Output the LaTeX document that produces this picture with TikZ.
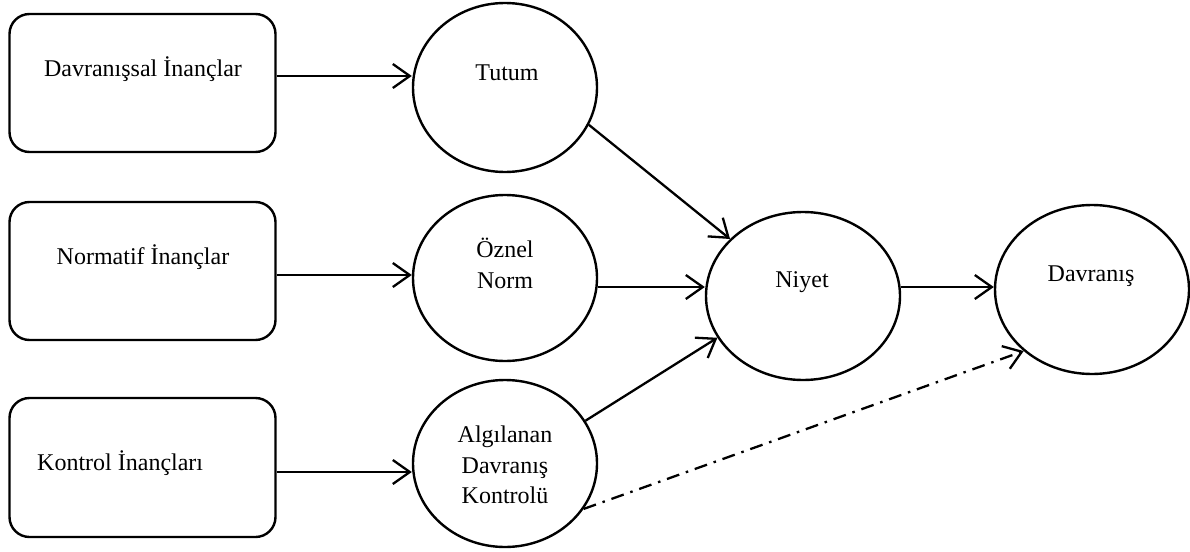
\documentclass[tikz,border=0pt]{standalone}
\usepackage{fontspec}
\setmainfont{Liberation Serif}
\usetikzlibrary{arrows.meta,shapes.geometric}
\begin{document}
\begin{tikzpicture}[x=1pt,y=-1pt,
  bx/.style={draw,line width=2.4pt,rounded corners=20pt,minimum width=266pt,minimum height=138pt,inner sep=0pt},
  el/.style={draw,ellipse,line width=2.4pt,inner sep=0pt},
  lbl/.style={inner sep=0pt,align=center,font=\fontsize{24}{30.5}\selectfont},
  arr/.style={line width=2.3pt,-{Straight Barb[length=17pt,width=24pt,line width=2.3pt]}},
  dashdot/.style={arr,dash pattern=on 13pt off 7pt on 2.5pt off 7pt}]
\useasboundingbox (0,0) rectangle (1190,551);

% belief boxes
\node[bx] (b1) at (142.5,83) {};
\node[bx] (b2) at (142.5,271) {};
\node[bx,minimum height=139pt] (b3) at (142.5,467.5) {};

% constructs
\node[el,minimum width=184pt,minimum height=169pt] (tutum) at (505,87.5) {};
\node[el,minimum width=184pt,minimum height=166pt] (oznel) at (505,278) {};
\node[el,minimum width=184pt,minimum height=167pt] (alg) at (505,463.5) {};
\node[el,minimum width=194pt,minimum height=168pt] (niyet) at (803,296) {};
\node[el,minimum width=194pt,minimum height=169pt] (dav) at (1092,289.5) {};

% labels
\node[lbl] (t1) at (143,69) {Davranışsal İnançlar};
\node[lbl] (t2) at (143,257) {Normatif İnançlar};
\node[lbl,anchor=west] (t3) at (37,463) {Kontrol İnançları};
\node[lbl] (t4) at (507,73) {Tutum};
\node[lbl] (t5) at (505,263.5) {Öznel\\Norm};
\node[lbl] (t6) at (505,465) {Algılanan\\Davranış\\Kontrolü};
\node[lbl] (t7) at (802,282) {Niyet};
\node[lbl] (t8) at (1091,276) {Davranış};

% connectors
\draw[arr] ([yshift=7pt]b1.east) -- ([yshift=11.5pt]tutum.west);
\draw[arr] ([yshift=-4pt]b2.east) -- ([yshift=3pt]oznel.west);
\draw[arr] ([yshift=-4.5pt]b3.east) -- ([yshift=-8.5pt]alg.west);
\draw[arr] (tutum.-24) -- (niyet.142);
\draw[arr] ([yshift=-9pt]oznel.east) -- ([yshift=9pt]niyet.west);
\draw[arr] (alg.28) -- (niyet.206);
\draw[arr] ([yshift=9pt]niyet.east) -- ([yshift=2.5pt]dav.west);
\draw[dashdot] (alg.-30) -- (dav.222);
\end{tikzpicture}
\end{document}
